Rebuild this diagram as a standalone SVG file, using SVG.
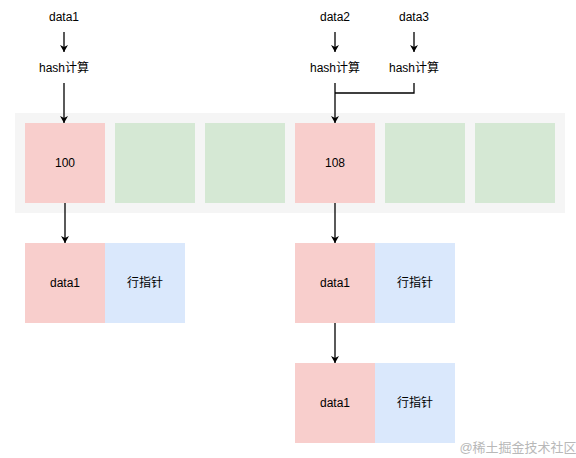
<svg xmlns="http://www.w3.org/2000/svg" width="576" height="458" viewBox="0 0 576 458">
<style>
text{font-family:"Liberation Sans","Noto Sans CJK SC",sans-serif;font-size:12px;fill:#000;text-anchor:middle;dominant-baseline:central}
.red{fill:#f8cecc}
.green{fill:#d5e8d4}
.blue{fill:#dae8fc}
.ln{stroke:#000;stroke-width:1.3;fill:none}
.wm{fill:#b8b8b8;font-size:13px}
</style>
<defs>
<marker id="ah" markerWidth="10" markerHeight="10" refX="8" refY="5" orient="auto" markerUnits="userSpaceOnUse">
<path d="M1,1 L8,5 L1,9 L3,5 Z" fill="#000"/>
</marker>
</defs>
<rect width="576" height="458" fill="#fff"/>
<g id="strip"><rect x="15" y="113" width="550" height="100" fill="#f5f5f5"/></g>
<g id="b100"><rect class="red" x="25" y="123" width="80" height="80"/><text x="65" y="163">100</text></g>
<g id="b2"><rect class="green" x="115" y="123" width="80" height="80"/></g>
<g id="b3"><rect class="green" x="205" y="123" width="80" height="80"/></g>
<g id="b108"><rect class="red" x="295" y="123" width="80" height="80"/><text x="335" y="163">108</text></g>
<g id="b5"><rect class="green" x="385" y="123" width="80" height="80"/></g>
<g id="b6"><rect class="green" x="475" y="123" width="80" height="80"/></g>
<g id="data1"><text x="64" y="17">data1</text></g>
<g id="hash1"><text x="64" y="68">hash计算</text></g>
<g id="data2"><text x="335" y="17">data2</text></g>
<g id="hash2"><text x="335" y="68">hash计算</text></g>
<g id="data3"><text x="414" y="17">data3</text></g>
<g id="hash3"><text x="414" y="68">hash计算</text></g>
<g id="row1"><rect class="red" x="25" y="243" width="80" height="80"/><text x="65" y="283">data1</text><rect class="blue" x="105" y="243" width="80" height="80"/><text x="145" y="283">行指针</text></g>
<g id="row2"><rect class="red" x="295" y="243" width="80" height="80"/><text x="335" y="283">data1</text><rect class="blue" x="375" y="243" width="80" height="80"/><text x="415" y="283">行指针</text></g>
<g id="row3"><rect class="red" x="295" y="363" width="80" height="80"/><text x="335" y="403">data1</text><rect class="blue" x="375" y="363" width="80" height="80"/><text x="415" y="403">行指针</text></g>
<g id="connectors">
<path class="ln" d="M64,32 V52" marker-end="url(#ah)"/>
<path class="ln" d="M64,83 V123" marker-end="url(#ah)"/>
<path class="ln" d="M335,32 V52" marker-end="url(#ah)"/>
<path class="ln" d="M414,32 V52" marker-end="url(#ah)"/>
<path class="ln" d="M335,83 V123" marker-end="url(#ah)"/>
<path class="ln" d="M414,83 V93 H335"/>
<path class="ln" d="M65,203 V243" marker-end="url(#ah)"/>
<path class="ln" d="M335,203 V243" marker-end="url(#ah)"/>
<path class="ln" d="M335,323 V363" marker-end="url(#ah)"/>
</g>
<text class="wm" x="518" y="447">@稀土掘金技术社区</text>
</svg>
